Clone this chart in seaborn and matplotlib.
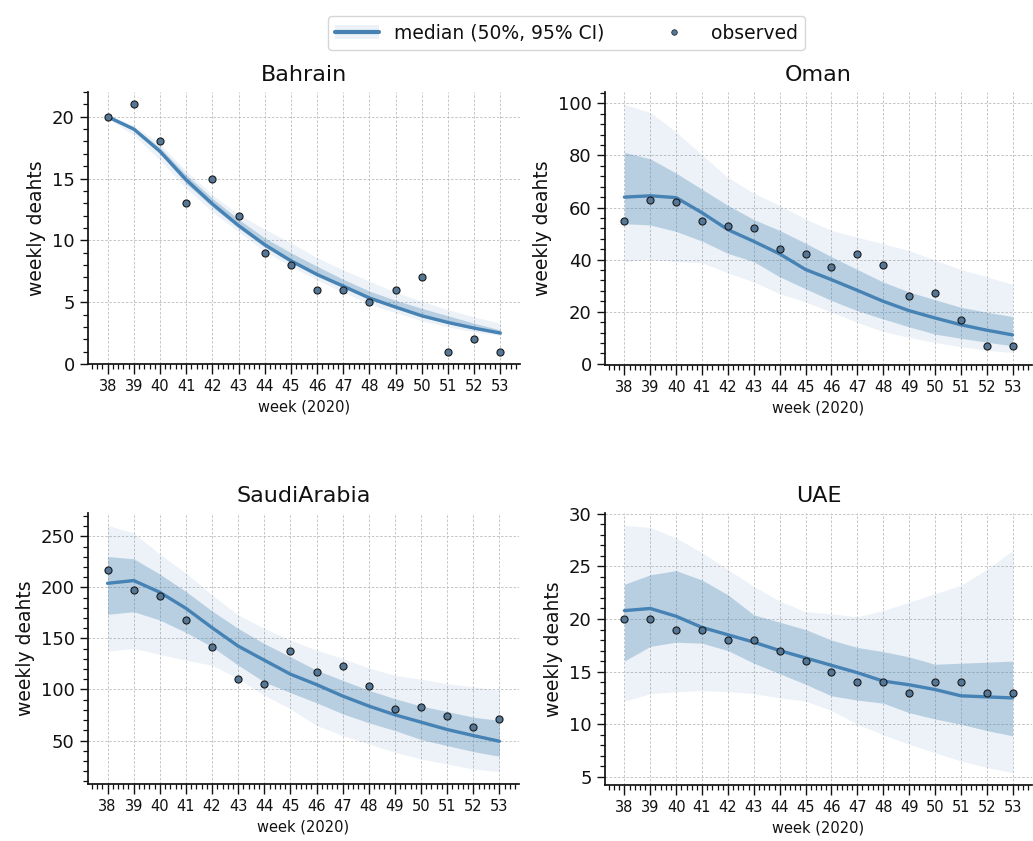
import numpy as np
import pandas as pd
import matplotlib
matplotlib.use("Agg")
import matplotlib.pyplot as plt
import seaborn as sns
from matplotlib.ticker import AutoMinorLocator
from matplotlib.lines import Line2D
from matplotlib.patches import Patch

weeks = list(range(38, 54))

bahrain_obs = [20, 21, 18, 13, 15, 12, 9, 8, 6, 6, 5, 6, 7, 1, 2, 1]
bahrain_med = [20.0, 19.0, 17.2, 14.9, 12.95, 11.2, 9.65, 8.35, 7.24, 6.3, 5.34, 4.6, 3.9, 3.36, 2.9, 2.5]
bahrain_lo50 = [19.93, 18.85, 17.0, 14.6, 12.7, 11.0, 9.45, 8.2, 7.1, 6.15, 5.2, 4.5, 3.8, 3.27, 2.82, 2.43]
bahrain_hi50 = [20.08, 19.15, 17.5, 15.3, 13.4, 11.7, 10.2, 9.0, 7.9, 6.85, 5.9, 5.15, 4.5, 3.9, 3.3, 2.75]
bahrain_lo95 = [19.85, 18.5, 16.5, 14.2, 12.3, 10.7, 9.1, 7.9, 6.8, 5.8, 4.85, 4.15, 3.5, 3.0, 2.6, 2.3]
bahrain_hi95 = [20.15, 19.3, 17.8, 15.6, 13.7, 12.1, 10.9, 9.8, 8.6, 7.6, 6.7, 5.8, 5.07, 4.4, 3.8, 3.3]

oman_obs = [55, 63, 62, 55, 53, 52, 44, 42, 37, 42, 38, 26, 27, 17, 7, 7]
oman_med = [64.0, 64.5, 63.8, 58.0, 51.5, 47.0, 42.2, 36.2, 32.3, 28.2, 24.0, 20.4, 17.6, 15.0, 12.9, 11.1]
oman_lo50 = [53.8, 53.3, 50.8, 47.1, 42.4, 39.2, 33.4, 28.8, 24.3, 20.4, 17.2, 14.2, 11.4, 9.8, 8.3, 6.9]
oman_hi50 = [81.2, 78.7, 73.2, 67.0, 60.8, 55.4, 51.2, 46.3, 41.1, 36.2, 31.4, 27.6, 24.6, 21.7, 19.8, 18.1]
oman_lo95 = [39.2, 40.1, 39.2, 38.8, 34.9, 31.4, 26.9, 23.7, 19.8, 15.9, 12.4, 10.1, 8.2, 6.6, 5.2, 4.3]
oman_hi95 = [99.6, 96.5, 89.0, 80.2, 71.5, 65.5, 60.8, 55.6, 51.2, 48.6, 46.1, 43.5, 39.8, 36.2, 33.4, 30.5]

saudi_obs = [217, 197.5, 191.6, 167.7, 141.8, 110.7, 105.4, 137.9, 116.9, 122.8, 103.8, 80.8, 82.8, 74, 62.8, 71]
saudi_med = [204, 206.7, 195.2, 179.5, 160.5, 142.5, 128.7, 115, 104.8, 93.6, 83.8, 75.2, 68, 60.8, 54.9, 49.3]
saudi_lo50 = [173.6, 176.2, 168, 155.9, 141.8, 123.8, 107.4, 96.9, 87, 76.2, 67.4, 59.8, 51, 45, 39.2, 34.6]
saudi_hi50 = [230.3, 228, 213, 196, 176.9, 159.8, 145, 132, 118.9, 109, 99.2, 91, 83.8, 78.5, 72.9, 69.7]
saudi_lo95 = [137.5, 140.2, 134.3, 128.7, 123.8, 110.7, 94.3, 81.1, 64.8, 54.9, 46.7, 38.5, 32, 27, 22.1, 19.5]
saudi_hi95 = [260.8, 253.3, 232.6, 214, 192.6, 173, 159.8, 148.4, 138.5, 130.3, 121.1, 113.9, 110, 105.7, 102.5, 99.2]

uae_obs = [20, 20, 19, 19, 18, 18, 17, 16, 15, 14, 14, 13, 14, 14, 13, 13]
uae_med = [20.8, 21.0, 20.26, 19.2, 18.5, 17.8, 17.0, 16.3, 15.6, 14.9, 14.1, 13.75, 13.3, 12.7, 12.6, 12.5]
uae_lo50 = [16.0, 17.4, 17.8, 17.7, 17.0, 15.8, 14.8, 13.8, 12.7, 12.3, 12.0, 11.1, 10.5, 10.0, 9.4, 8.9]
uae_hi50 = [23.3, 24.2, 24.6, 23.7, 22.3, 20.4, 19.7, 19.0, 18.0, 17.3, 16.9, 16.4, 15.7, 15.8, 15.9, 16.0]
uae_lo95 = [12.2, 12.9, 13.1, 13.2, 13.1, 12.9, 12.5, 12.2, 11.3, 10.0, 9.0, 8.1, 7.3, 6.5, 5.9, 5.4]
uae_hi95 = [28.9, 28.7, 27.7, 26.3, 24.7, 23.1, 21.7, 20.7, 20.5, 20.2, 20.8, 21.6, 22.4, 23.2, 24.7, 26.5]

countries = ["Bahrain", "Oman", "SaudiArabia", "UAE"]
series = {
    "Bahrain": (bahrain_obs, bahrain_med, bahrain_lo50, bahrain_hi50, bahrain_lo95, bahrain_hi95),
    "Oman": (oman_obs, oman_med, oman_lo50, oman_hi50, oman_lo95, oman_hi95),
    "SaudiArabia": (saudi_obs, saudi_med, saudi_lo50, saudi_hi50, saudi_lo95, saudi_hi95),
    "UAE": (uae_obs, uae_med, uae_lo50, uae_hi50, uae_lo95, uae_hi95),
}

sns.set_theme(style="ticks")
plt.rcParams["font.family"] = ["DejaVu Sans"]
plt.rcParams.update({"text.color": "#111111", "axes.labelcolor": "#111111",
                     "xtick.color": "#111111", "ytick.color": "#111111",
                     "xtick.labelcolor": "#111111", "ytick.labelcolor": "#111111"})

LINE = "#4682b4"
DOT = "#557797"

fig = plt.figure(figsize=(10.33, 8.41), dpi=100)
W, H = 1033, 841
boxes = [
    (88, 92, 520, 364),
    (605, 92, 1032, 365),
    (88, 513, 519, 784),
    (605, 513, 1032, 785),
]

for name, (l, t, r, b) in zip(countries, boxes):
    ax = fig.add_axes([l / W, 1 - b / H, (r - l) / W, (b - t) / H])
    obs, med, lo50, hi50, lo95, hi95 = series[name]
    df = pd.DataFrame({"week": weeks, "observed": obs, "median": med,
                       "lo50": lo50, "hi50": hi50, "lo95": lo95, "hi95": hi95})
    ax.fill_between(df["week"], df["lo95"], df["hi95"], color=LINE, alpha=0.1, lw=0)
    ax.fill_between(df["week"], df["lo50"], df["hi50"], color=LINE, alpha=0.31, lw=0)
    sns.lineplot(data=df, x="week", y="median", ax=ax, color=LINE, lw=2.4)
    sns.scatterplot(data=df, x="week", y="observed", ax=ax, color=DOT,
                    edgecolor="#1a1a1a", linewidth=0.8, s=26, zorder=5)
    ax.set_xlim(37.25, 53.75)
    ax.set_xticks(weeks)
    ax.set_xticklabels([str(w) for w in weeks], fontsize=10.5)
    ax.xaxis.set_minor_locator(AutoMinorLocator(5))
    ax.yaxis.set_minor_locator(AutoMinorLocator(5))
    ax.tick_params(axis="y", labelsize=13, length=6, width=1)
    ax.tick_params(axis="x", length=7, width=1)
    ax.tick_params(which="minor", length=3.5, width=0.9)
    ax.grid(True, which="major", ls=(0, (3, 2)), lw=0.6, color="#bdbdbd")
    ax.set_xlabel("week (2020)", fontsize=10.5)
    ax.set_ylabel("weekly deahts", fontsize=13.5)
    ax.set_title(name, fontsize=16, pad=8)
    for s in ["left", "bottom"]:
        ax.spines[s].set_color("#111111")
    sns.despine(ax=ax)

handles = [
    (Patch(facecolor=LINE, alpha=0.1, edgecolor="none"),
     Line2D([], [], color=LINE, lw=3)),
    Line2D([], [], marker="o", ls="none", color=DOT, markeredgecolor="#1a1a1a",
           markeredgewidth=0.5, markersize=4),
]
fig.legend(handles, ["median (50%, 95% CI)", "observed"], loc="upper center",
           bbox_to_anchor=(0.5484, 0.992), ncol=2, fontsize=13.5, frameon=True,
           handlelength=2.35, columnspacing=2.5, handletextpad=0.8,
           fancybox=True, edgecolor="#cccccc", borderpad=0.4)

fig.savefig("out.png", dpi=100)
